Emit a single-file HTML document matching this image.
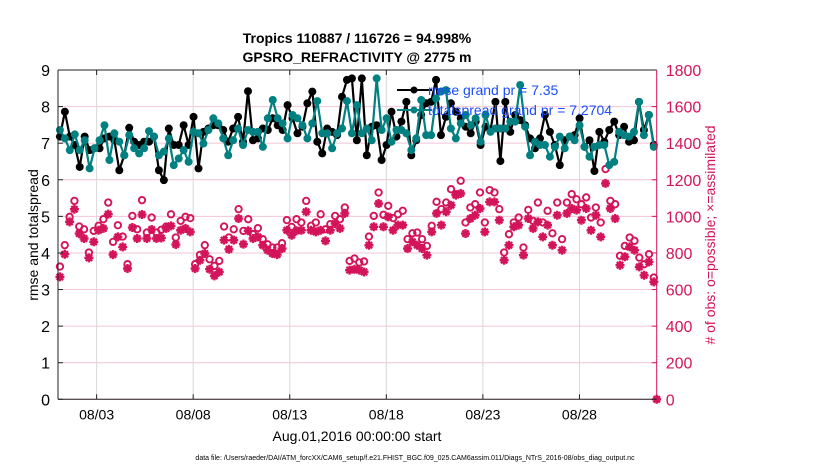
<!DOCTYPE html>
<html><head><meta charset="utf-8">
<style>
body{margin:0;background:#fff;}
svg{font-family:"Liberation Sans",sans-serif;}
</style></head>
<body>
<svg id="chart" width="830" height="470" viewBox="0 0 830 470" xmlns="http://www.w3.org/2000/svg">
<g id="grid"></g>
<g id="series"></g>
<g id="axes"></g>
<text x="357" y="43" text-anchor="middle" font-size="14" font-weight="bold">Tropics 110887 / 116726 = 94.998%</text>
<text x="357" y="62" text-anchor="middle" font-size="14" font-weight="bold">GPSRO_REFRACTIVITY @ 2775 m</text>
<text x="357" y="441" text-anchor="middle" font-size="14">Aug.01,2016 00:00:00 start</text>
<text transform="translate(38,235) rotate(-90)" text-anchor="middle" font-size="14">rmse and totalspread</text>
<text transform="translate(715,235) rotate(-90)" text-anchor="middle" font-size="14" fill="#d4145a"># of obs: o=possible; ×=assimilated</text>
<text x="415" y="460" text-anchor="middle" font-size="7">data file: /Users/raeder/DAI/ATM_forcXX/CAM6_setup/f.e21.FHIST_BGC.f09_025.CAM6assim.011/Diags_NTrS_2016-08/obs_diag_output.nc</text>
<g id="legend">
<line x1="397" y1="90" x2="432" y2="90" stroke="#000" stroke-width="2"/>
<circle cx="414" cy="90" r="3.5" fill="#000"/>
<text x="428" y="95" font-size="14" fill="#1a4dff">rmse grand pr = 7.35</text>
<line x1="397" y1="110" x2="432" y2="110" stroke="#008080" stroke-width="2"/>
<circle cx="414" cy="110" r="3.5" fill="#008080"/>
<text x="428" y="115" font-size="14" fill="#1a4dff">totalspread grand pr = 7.2704</text>
</g>
</svg>
<script>
const xTickLabels = ["08/03","08/08","08/13","08/18","08/23","08/28"];
const xTickDays = [2,7,12,17,22,27];
const yTicks = [0,1,2,3,4,5,6,7,8,9];
const y2Ticks = [0,200,400,600,800,1000,1200,1400,1600,1800];
const rmse = [7.18,7.86,7.18,6.95,6.35,7.18,6.81,6.86,6.86,7.13,7.18,7.08,6.26,6.67,7.42,7.04,6.95,7.04,7.04,7.18,6.26,5.99,7.40,6.95,6.95,7.49,6.95,7.72,6.31,7.31,7.40,7.49,7.49,7.36,7.04,7.40,7.72,7.04,8.42,7.08,7.13,7.40,7.36,7.68,7.49,7.36,8.04,7.68,7.27,7.45,8.09,8.41,7.04,6.72,7.40,7.31,7.22,8.27,8.73,
8.77,7.08,8.77,6.67,7.45,7.49,6.54,6.95,7.86,7.18,7.59,8.13,6.67,7.08,7.77,8.09,8.13,8.73,7.22,7.72,8.09,7.86,7.68,7.45,7.27,7.59,6.95,7.45,7.36,8.13,6.51,8.13,7.31,7.77,7.63,7.49,7.13,6.86,7.13,7.77,7.31,6.95,6.40,7.08,7.18,7.22,7.68,6.90,7.08,6.24,7.31,7.04,7.36,7.59,7.22,7.45,7.04,7.08,8.13,7.36,7.77,6.95];
const totalspread = [7.36,7.13,6.81,7.24,6.81,7.08,6.31,6.86,7.08,7.49,6.54,7.27,7.04,6.67,7.22,6.86,6.72,6.86,7.33,7.18,6.67,6.77,7.13,6.40,6.58,6.81,6.49,7.31,7.27,6.99,7.36,7.68,7.54,7.13,6.67,7.08,7.40,6.95,7.36,7.31,7.31,6.90,7.68,8.18,7.68,7.54,7.13,7.77,7.68,7.49,7.13,7.54,8.15,7.27,7.27,6.86,7.27,7.40,8.15,7.27,8.04,7.27,
7.40,7.08,8.77,7.36,7.68,7.04,7.36,7.36,7.27,6.81,7.13,8.18,7.22,7.22,8.22,8.41,8.45,7.40,7.13,7.54,7.77,7.49,7.68,7.04,7.77,7.31,7.40,7.40,7.40,7.59,7.59,8.59,7.45,6.67,7.04,6.95,6.95,6.63,6.90,7.18,6.86,7.18,7.08,7.49,6.90,6.63,6.90,6.95,6.95,6.40,6.49,7.31,7.22,7.18,7.31,8.13,7.22,7.77,6.90];
const obsPossible = [720,837,992,1079,939,924,797,915,943,979,1070,855,946,884,733,997,924,1083,906,988,906,921,939,1006,879,970,992,985,733,784,837,760,724,751,939,879,924,1034,915,979,897,930,870,842,824,824,848,974,937,979,961,1079,943,961,1006,924,952,997,979,1043,751,764,
742,748,884,997,1125,1003,1052,985,1006,1025,870,902,906,870,833,943,1074,1034,1070,1143,1116,1189,961,1043,1061,1125,961,1138,1125,1034,797,897,961,988,824,1030,970,1070,961,1025,902,1070,870,1070,1116,1088,1061,1098,988,1043,961,1253,1079,1061,779,833,879,861,769,733,788,660];
const obsAssim = [669,793,970,1039,906,879,773,861,924,934,1012,791,888,833,715,939,879,1010,879,928,879,882,934,948,846,924,934,915,715,760,797,711,675,696,870,820,870,988,848,921,879,888,842,815,797,791,824,924,897,921,924,1025,924,915,924,866,924,961,934,1016,706,711,
706,696,842,943,1070,943,997,924,952,952,824,861,842,824,788,915,1016,952,1025,1061,1116,1125,906,988,1006,1043,915,1079,1079,979,760,842,943,952,788,988,934,970,888,952,842,1006,815,1016,1043,1034,979,1043,924,1006,888,1180,1043,988,733,779,833,815,724,678,751,642];
const lastBinObs = [0];

const X0=58, X1=656.7, Y0=399.3, Y1=70, NDAYS=31;
const NS="http://www.w3.org/2000/svg";
function xScale(d){return X0+(d/NDAYS)*(X1-X0);}
function yScale(v){return Y0-(v/9)*(Y0-Y1);}
function y2Scale(v){return Y0-(v/1800)*(Y0-Y1);}
function dayOf(i,n){return 0.1+i*(30.75/(n-1));}
function mk(tag,attrs,parent){const e=document.createElementNS(NS,tag);for(const k in attrs)e.setAttribute(k,attrs[k]);parent.appendChild(e);return e;}
const grid=document.getElementById('grid'),series=document.getElementById('series'),axes=document.getElementById('axes');

yTicks.forEach(v=>{
  const y=yScale(v);
  const g=mk('line',{x1:X0,x2:X1,y1:y,y2:y,stroke:'#f2c4d8','stroke-width':1},grid);
  
  
  mk('line',{x1:X0,x2:X0+5,y1:y,y2:y,stroke:'#222'},axes);
  const t=mk('text',{x:X0-8,y:y+6,'text-anchor':'end','font-size':16},axes);
  t.textContent=v;
  
  
});
xTickDays.forEach((d,i)=>{
  const x=xScale(d);
  const g=mk('line',{x1:x,x2:x,y1:Y1,y2:Y0,stroke:'#d8d8d8','stroke-width':1},grid);
  
  
  mk('line',{x1:x,x2:x,y1:Y0,y2:Y0-5,stroke:'#222'},axes);
  mk('line',{x1:x,x2:x,y1:Y1,y2:Y1+5,stroke:'#222'},axes);
  const t=mk('text',{x:x,y:Y0+20,'text-anchor':'middle','font-size':14},axes);
  t.textContent=xTickLabels[i];
  
  
});
y2Ticks.forEach(v=>{
  const y=y2Scale(v);
  mk('line',{x1:X1-5,x2:X1,y1:y,y2:y,stroke:'#d4145a'},axes);
  const t=mk('text',{x:X1+9,y:y+6,'font-size':16,fill:'#d4145a'},axes);
  t.textContent=v;
  
  
});
mk('line',{x1:X0,x2:X1,y1:Y0,y2:Y0,stroke:'#222'},axes);
mk('line',{x1:X0,x2:X1,y1:Y1,y2:Y1,stroke:'#222'},axes);
mk('line',{x1:X0,x2:X0,y1:Y1,y2:Y0,stroke:'#222'},axes);
mk('line',{x1:X1,x2:X1,y1:Y1,y2:Y0,stroke:'#d4145a'},axes);

function star(cx,cy,parent){
  const r=4.5, p=[];
  for(let k=0;k<4;k++){const a=k*Math.PI/4;p.push(`M${cx-r*Math.cos(a)},${cy-r*Math.sin(a)}L${cx+r*Math.cos(a)},${cy+r*Math.sin(a)}`);}
  return mk('path',{d:p.join(''),stroke:'#d4145a','stroke-width':2.4},parent);
}
obsPossible.forEach((v,i)=>{
  const c=mk('circle',{cx:xScale(dayOf(i,obsPossible.length)),cy:y2Scale(v)-1,r:3.2,fill:'none',stroke:'#d4145a','stroke-width':1.9},series);
  
  
});
obsAssim.forEach((v,i)=>{
  const s=star(xScale(dayOf(i,obsAssim.length)),y2Scale(v),series);
  
  
});
lastBinObs.forEach(v=>{
  const c=mk('circle',{cx:xScale(NDAYS),cy:y2Scale(v),r:3.5,fill:'#d4145a'},series);
  
  
  const s=star(xScale(NDAYS),y2Scale(v),series);
  
  
});
function lineSeries(arr,color,name){
  const pts=arr.map((v,i)=>[xScale(dayOf(i,arr.length)),yScale(v)]);
  const pl=mk('polyline',{points:pts.map(p=>p.join(',')).join(' '),fill:'none',stroke:color,'stroke-width':2.2,'stroke-linejoin':'round'},series);
  
  
  pts.forEach(p=>{
    const c=mk('circle',{cx:p[0],cy:p[1],r:4,fill:color},series);
    
    
  });
}
lineSeries(rmse,'#000','rmse');
lineSeries(totalspread,'#008080','totalspread');
</script>
</body></html>
